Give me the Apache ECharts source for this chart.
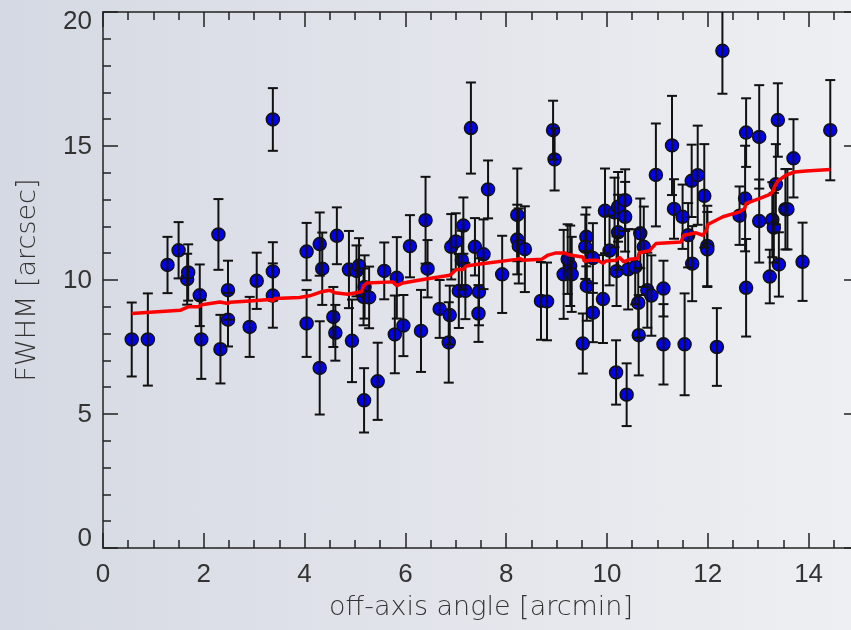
<!DOCTYPE html>
<html>
<head>
<meta charset="utf-8">
<script src="https://cdn.jsdelivr.net/npm/echarts@6/dist/echarts.min.js"></script>
<style>
html,body{margin:0;padding:0;}
#chart{width:851px;height:630px;background:linear-gradient(to right,#d5d9e3,#eeeff2);}
</style>
</head>
<body>
<div id="chart"></div>
<script>
// off-axis angle [arcmin]
const X = [0.57,0.89,1.28,1.50,1.67,1.69,1.92,1.95,2.29,2.33,2.48,2.48,2.91,3.05,3.37,3.37,3.37,
4.04,4.04,4.30,4.35,4.30,4.64,4.57,4.61,4.88,4.94,5.03,5.08,5.19,5.17,5.28,5.18,5.45,5.58,5.83,5.79,5.96,
6.09,6.31,6.40,6.44,6.68,6.86,6.88,6.91,7.00,7.15,7.12,7.06,7.19,7.30,7.38,7.46,7.45,7.55,7.64,7.92,
8.22,8.22,8.25,8.37,8.69,8.81,8.93,8.96,9.14,9.27,9.30,9.22,9.59,9.57,9.60,9.72,9.52,9.72,9.96,
10.05,9.92,10.15,10.22,10.36,10.36,10.22,10.19,10.42,10.56,10.66,10.73,10.62,10.63,10.18,10.39,10.80,10.88,
11.12,11.12,11.54,10.97,11.29,11.33,11.50,11.61,11.68,11.80,11.69,11.93,11.99,11.99,12.18,12.29,
12.63,12.74,12.76,12.76,13.02,13.02,13.23,13.28,13.31,13.35,13.39,13.41,13.54,13.58,13.70,13.88,14.43];
// FWHM [arcsec]
const Y = [7.78,7.78,10.56,11.11,10.03,10.28,9.43,7.78,11.70,7.42,9.62,8.52,8.25,9.97,10.32,9.42,15.99,
11.06,8.38,11.34,10.42,6.72,11.65,8.62,8.03,10.39,7.73,10.34,10.53,9.74,9.37,9.35,5.51,6.22,10.34,10.08,7.97,8.30,
11.26,8.10,12.23,10.42,8.92,7.67,8.69,11.24,11.44,12.03,10.74,9.59,9.59,15.67,11.24,9.56,8.75,10.96,13.38,10.21,
12.43,11.51,11.27,11.15,9.22,9.20,15.59,14.50,10.21,10.53,10.21,10.78,11.61,11.24,9.78,10.82,7.63,8.78,12.58,
11.10,9.29,12.52,12.73,12.98,12.36,11.78,10.33,10.40,10.49,11.74,11.24,9.15,7.94,6.55,5.72,9.62,9.42,
9.68,7.60,7.60,13.92,15.02,12.65,12.36,11.67,13.70,13.91,10.61,13.14,11.27,11.14,7.50,18.55,
12.40,13.04,15.50,9.71,15.34,12.20,10.13,12.25,11.95,13.57,15.97,10.58,12.64,12.64,14.54,10.68,15.59];
// symmetric error
const ERR = [1.38,1.72,1.05,1.05,0.95,1.05,1.15,1.47,1.32,1.28,1.10,1.00,1.12,1.05,1.09,1.20,1.17,
1.07,1.25,1.18,1.35,1.74,1.06,1.12,1.04,1.44,1.54,0.95,1.03,1.18,1.06,1.15,1.20,1.44,1.06,1.52,1.45,1.14,
1.16,1.53,1.62,1.07,1.08,1.50,1.10,1.22,1.05,1.05,1.10,1.38,1.05,1.70,1.07,1.25,1.06,1.30,1.08,1.44,
1.73,1.30,1.40,1.60,1.45,1.45,1.10,1.16,1.66,1.50,1.40,1.30,1.10,1.20,1.30,1.30,1.12,1.10,1.58,
1.30,1.64,1.30,1.30,1.15,1.30,1.40,1.30,1.50,1.40,1.30,1.50,1.30,1.50,1.20,1.17,1.40,1.50,
1.04,1.50,1.90,1.92,1.85,1.11,1.20,1.20,1.35,1.85,1.40,1.93,1.50,1.40,1.45,1.60,
1.09,1.97,1.28,1.82,1.93,1.55,1.00,1.40,1.30,1.50,1.37,1.20,1.50,1.50,1.46,1.46,1.87];
// running trend (red line)
const LINE_X = [0.57,1.53,1.69,1.89,1.96,2.32,2.48,2.52,2.91,3.31,3.37,3.41,3.90,4.10,4.33,4.50,4.60,4.86,5.13,5.17,5.23,5.75,5.83,5.95,6.35,6.88,6.94,7.01,7.14,7.21,7.44,8.20,8.27,8.33,8.70,8.83,8.99,9.16,9.26,9.52,9.55,9.65,9.82,9.92,9.98,10.18,10.25,10.33,10.45,10.61,10.64,10.84,10.97,11.47,11.52,11.77,11.90,11.97,12.00,12.30,12.63,12.73,12.76,13.02,13.22,13.29,13.32,13.39,13.55,13.72,13.95,14.43];
const LINE_Y = [8.75,8.87,9.00,9.00,9.08,9.18,9.12,9.17,9.22,9.27,9.22,9.31,9.35,9.41,9.56,9.62,9.52,9.47,9.56,9.78,9.89,9.93,9.79,9.89,10.02,10.18,10.27,10.39,10.39,10.52,10.59,10.77,10.80,10.74,10.77,10.93,11.01,11.01,10.93,10.86,10.70,10.74,10.74,10.62,10.71,10.74,10.84,10.68,10.77,10.80,11.02,11.09,11.36,11.42,11.67,11.76,11.67,11.86,12.07,12.36,12.54,12.67,12.86,13.04,13.19,13.29,13.47,13.70,13.91,14.03,14.07,14.12];

const X_NAME = 'off-axis angle [arcmin]';
const Y_NAME = 'FWHM [arcsec]';

const chart = echarts.init(document.getElementById('chart'), null, {renderer: 'canvas'});
const AX = '#222';
const LBL = '#333';
const FONT = 'Liberation Sans';

const points = X.map((x, i) => [x, Y[i]]);
const bars = X.map((x, i) => [x, Y[i] - ERR[i], Y[i] + ERR[i]]);
const trend = LINE_X.map((x, i) => [x, LINE_Y[i]]);

function xAxisDef(pos, major, labels) {
  return {
    type: 'value', position: pos, min: 0, max: 15, interval: major ? 2 : 0.5,
    axisLine: {show: major, onZero: false, lineStyle: {color: AX, width: 1.5}},
    axisTick: {show: true, inside: true, length: major ? 15 : 8, lineStyle: {color: AX, width: 1.5}},
    splitLine: {show: false},
    axisLabel: labels ? {
      show: true, margin: 14, color: LBL, fontSize: 26, fontFamily: FONT,
      formatter: v => (v % 2 === 0 ? String(v) : '')
    } : {show: false},
    name: labels ? X_NAME : '', nameLocation: 'middle', nameGap: 46,
    nameTextStyle: {color: LBL, fontSize: 27, fontFamily: 'DejaVu Sans', fontWeight: 200}
  };
}
function yAxisDef(pos, labels) {
  return {
    type: 'value', position: pos, min: 0, max: 20, interval: 5,
    axisLine: {show: true, onZero: false, lineStyle: {color: AX, width: 1.5}},
    axisTick: {show: true, inside: true, length: 15, lineStyle: {color: AX, width: 1.5}},
    minorTick: {show: true, splitNumber: 5, length: 8, lineStyle: {color: AX, width: 1.5}},
    splitLine: {show: false},
    axisLabel: labels ? {
      show: true, margin: 11, color: LBL, fontSize: 26, fontFamily: FONT,
      formatter: v => v === 20 ? '{mx|20}' : (v === 0 ? '{mn|0}' : '{n|' + v + '}'),
      rich: {
        mx: {fontSize: 26, fontFamily: FONT, color: LBL, padding: [19, 0, 0, 0]},
        mn: {fontSize: 26, fontFamily: FONT, color: LBL, padding: [0, 0, 18, 0]},
        n: {fontSize: 26, fontFamily: FONT, color: LBL, padding: [2, 0, 0, 0]}
      }
    } : {show: false},
    name: labels ? Y_NAME : '', nameLocation: 'middle', nameGap: 62, nameRotate: 90,
    nameTextStyle: {color: LBL, fontSize: 27, fontFamily: 'DejaVu Sans', fontWeight: 200}
  };
}

chart.setOption({
  backgroundColor: 'transparent',
  animation: false,
  grid: {left: 103, top: 12, width: 756, height: 536, containLabel: false, outerBoundsMode: 'none'},
  xAxis: [
    xAxisDef('bottom', true, true),
    xAxisDef('bottom', false, false),
    xAxisDef('top', true, false),
    xAxisDef('top', false, false)
  ],
  yAxis: [yAxisDef('left', true), yAxisDef('right', false)],
  series: [
    {
      type: 'scatter', data: points, symbol: 'circle', symbolSize: 13, z: 2,
      itemStyle: {color: '#0000ee', borderColor: '#111', borderWidth: 1.5, opacity: 1}
    },
    {
      type: 'custom', data: bars, z: 3,
      renderItem: function (params, api) {
        const x = api.value(0), lo = api.value(1), hi = api.value(2);
        const top = Math.min(hi, 20);
        const pLo = api.coord([x, lo]);
        const pHi = api.coord([x, top]);
        const hw = 5;
        const st = {stroke: '#111', lineWidth: 2};
        const ch = [
          {type: 'line', shape: {x1: pLo[0], y1: pLo[1], x2: pHi[0], y2: pHi[1]}, style: st},
          {type: 'line', shape: {x1: pLo[0] - hw, y1: pLo[1], x2: pLo[0] + hw, y2: pLo[1]}, style: st}
        ];
        if (hi <= 20) ch.push({type: 'line', shape: {x1: pHi[0] - hw, y1: pHi[1], x2: pHi[0] + hw, y2: pHi[1]}, style: st});
        return {type: 'group', children: ch};
      }
    },
    {
      type: 'line', data: trend, showSymbol: false, symbol: 'none', z: 4,
      lineStyle: {color: '#ff0000', width: 3.5}
    }
  ]
});
</script>
</body>
</html>
